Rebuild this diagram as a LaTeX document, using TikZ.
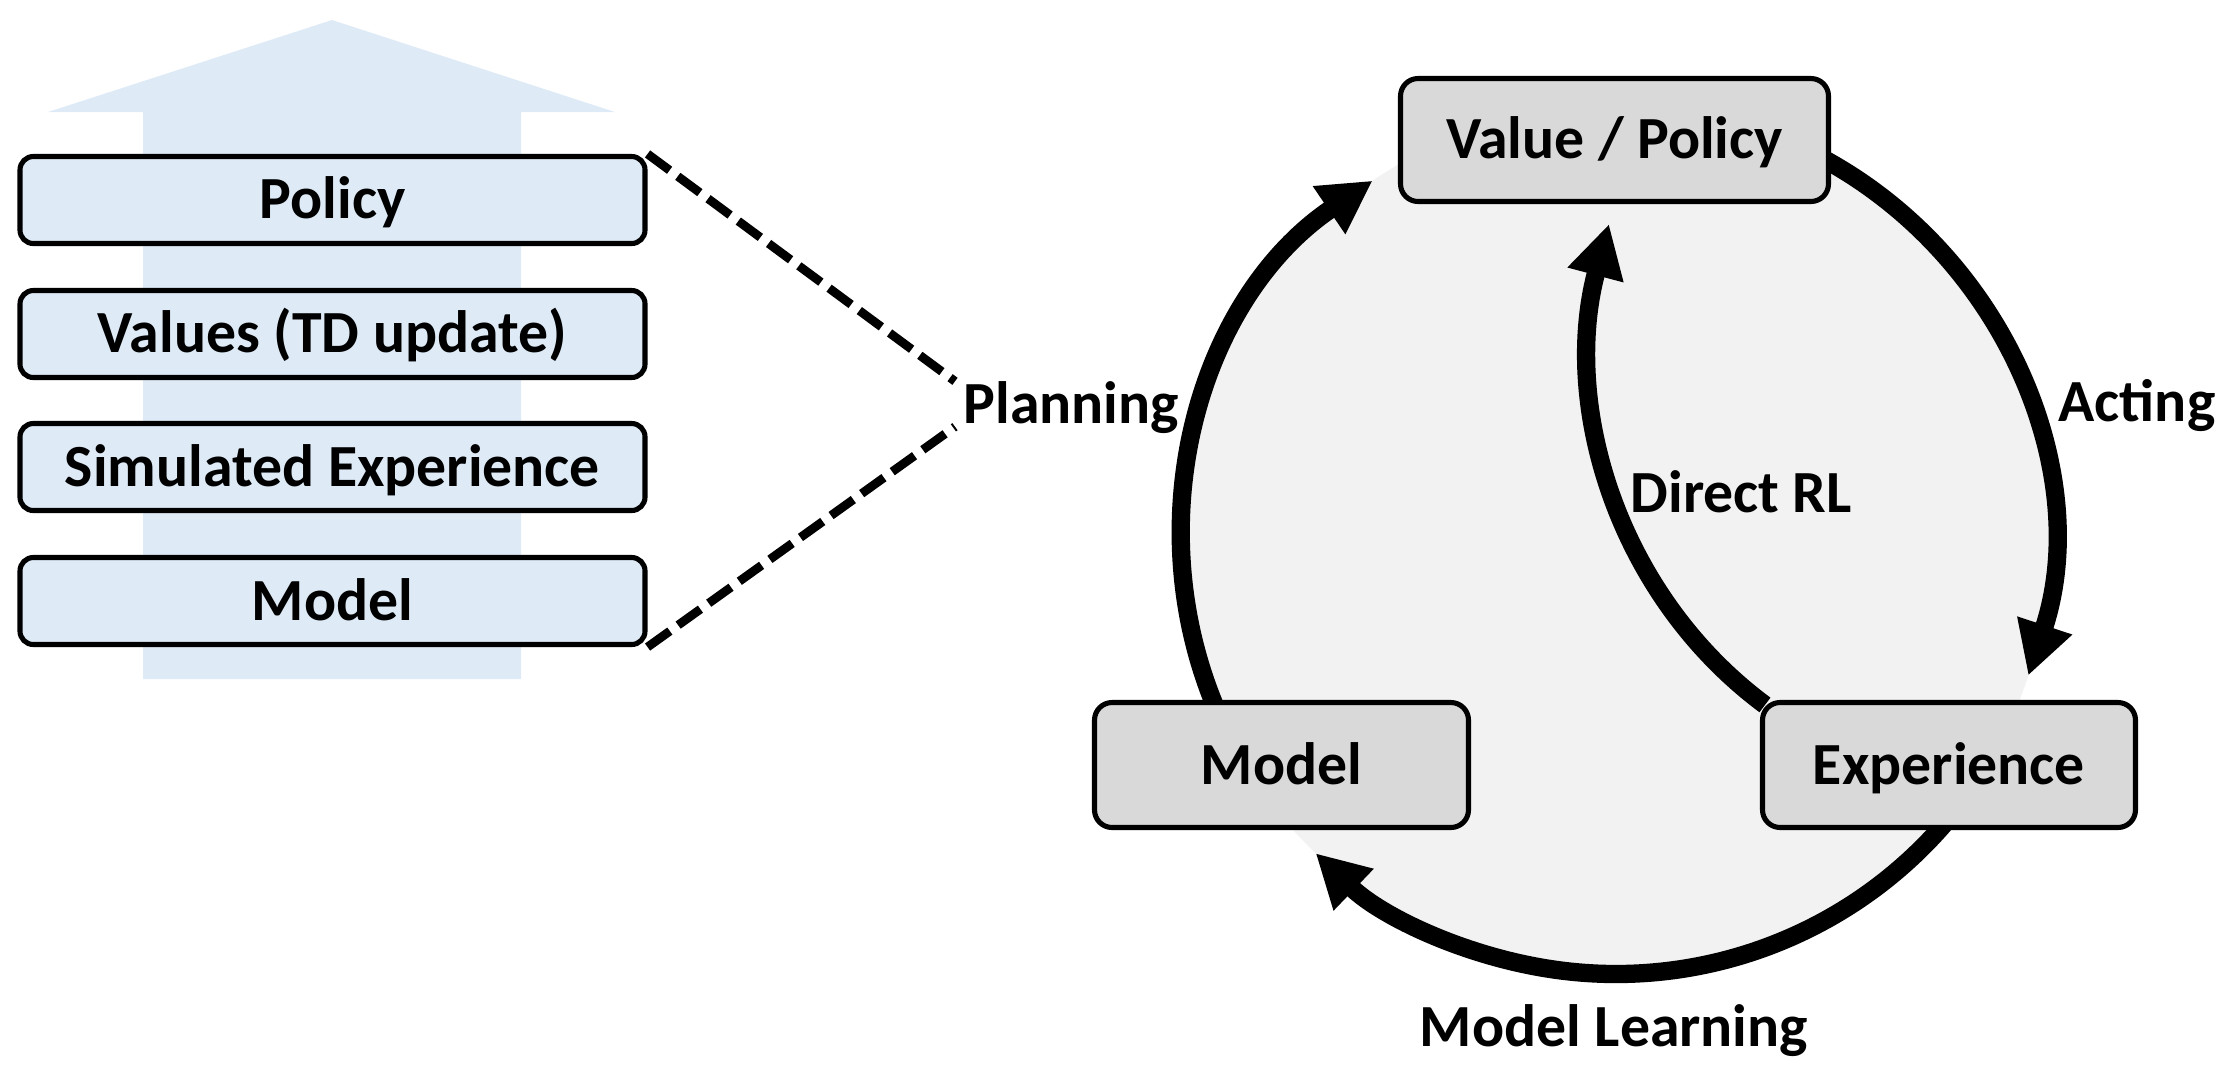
\documentclass[tikz,border=0pt]{standalone}
\usepackage{fontspec}
\setmainfont{Carlito}
\usetikzlibrary{arrows.meta,backgrounds}

\newlength{\du}
\setlength{\du}{0.01cm}

\definecolor{stackblue}{RGB}{222,235,247}
\definecolor{boxgray}{RGB}{217,217,217}
\definecolor{loopgray}{RGB}{242,242,242}

\tikzset{
  labelfont/.style={font=\bfseries\fontsize{17}{20}\selectfont},
  stackbox/.style={labelfont, draw=black, line width=1.45pt, fill=stackblue,
    rounded corners=3.8pt, minimum width=625\du, minimum height=87\du,
    inner sep=0pt, text height=10.8pt, text depth=0pt},
  loopbox/.style={labelfont, draw=black, line width=1.45pt, fill=boxgray,
    rounded corners=5pt, inner sep=0pt, text height=10.8pt, text depth=0pt},
  looplabel/.style={labelfont, inner sep=0pt, text height=10.8pt, text depth=0pt},
  plandash/.style={line width=2.5pt, dash pattern=on 7.8pt off 2.9pt},
  looparrow/.style={line width=5.2pt, -{Triangle[length=15pt,width=15.4pt]}},
}

\begin{document}
\begin{tikzpicture}
\pgftransformxscale{1.000000}
\pgftransformyscale{-1.000000}
\useasboundingbox (0\du,0\du) rectangle (2226\du,1078\du);
% big arrow behind the stack
\fill[stackblue] (143\du,679\du)--(143\du,112\du)--(48\du,112\du)--(332\du,20\du)--(615\du,112\du)--(521\du,112\du)--(521\du,679\du)--cycle;
% stack
\node[stackbox] (pol) at (332.5\du,200\du){Policy};
\node[stackbox] (val) at (332.5\du,334\du){Values (TD update)};
\node[stackbox] (sim) at (332.5\du,467\du){Simulated Experience};
\node[stackbox] (lmdl) at (332.5\du,601\du){Model};
% planning label and its two dashed lines
\node[looplabel, anchor=base west, inner xsep=8\du, inner ysep=3\du] (plan) at (955\du,423\du){Planning};
\draw[plandash] (pol.north east)--(plan.north west);
\draw[plandash] (lmdl.south east)--(plan.south west);
% boxes of the loop
\node[loopbox, minimum width=428\du, minimum height=123\du] (vp) at (1614.5\du,140\du){Value / Policy};
\node[loopbox, minimum width=374\du, minimum height=125\du] (mdl) at (1281.5\du,765\du){Model};
\node[loopbox, minimum width=373\du, minimum height=125\du] (exp) at (1949\du,765\du){Experience};
% labels of the loop
\node[looplabel, anchor=base west] (act) at (2058\du,421\du){Acting};
\node[looplabel, anchor=base west] (drl) at (1630\du,512\du){Direct RL};
\node[looplabel, anchor=base] (mlearn) at (1614\du,1046\du){Model Learning};
% the loop itself, under the boxes
\coordinate (c) at (1616\du,540\du);
\coordinate (drltip) at (1609\du,224\du);
\begin{scope}[on background layer]
\fill[loopgray] (c) circle[radius=434\du];
\draw[looparrow] (c) ++(155:434\du) arc[start angle=155,end angle=235.9,radius=434\du];
\draw[looparrow] (c) ++(-62:434\du) arc[start angle=-62,end angle=18.2,radius=434\du];
\draw[looparrow] (c) ++(38:434\du) arc[start angle=38,end angle=133.8,radius=434\du];
\draw[looparrow] ([shift={(5\du,5\du)}]exp.north west) .. controls (1617\du,595\du) and (1561\du,405\du) .. (drltip);
\end{scope}
\end{tikzpicture}
\end{document}
